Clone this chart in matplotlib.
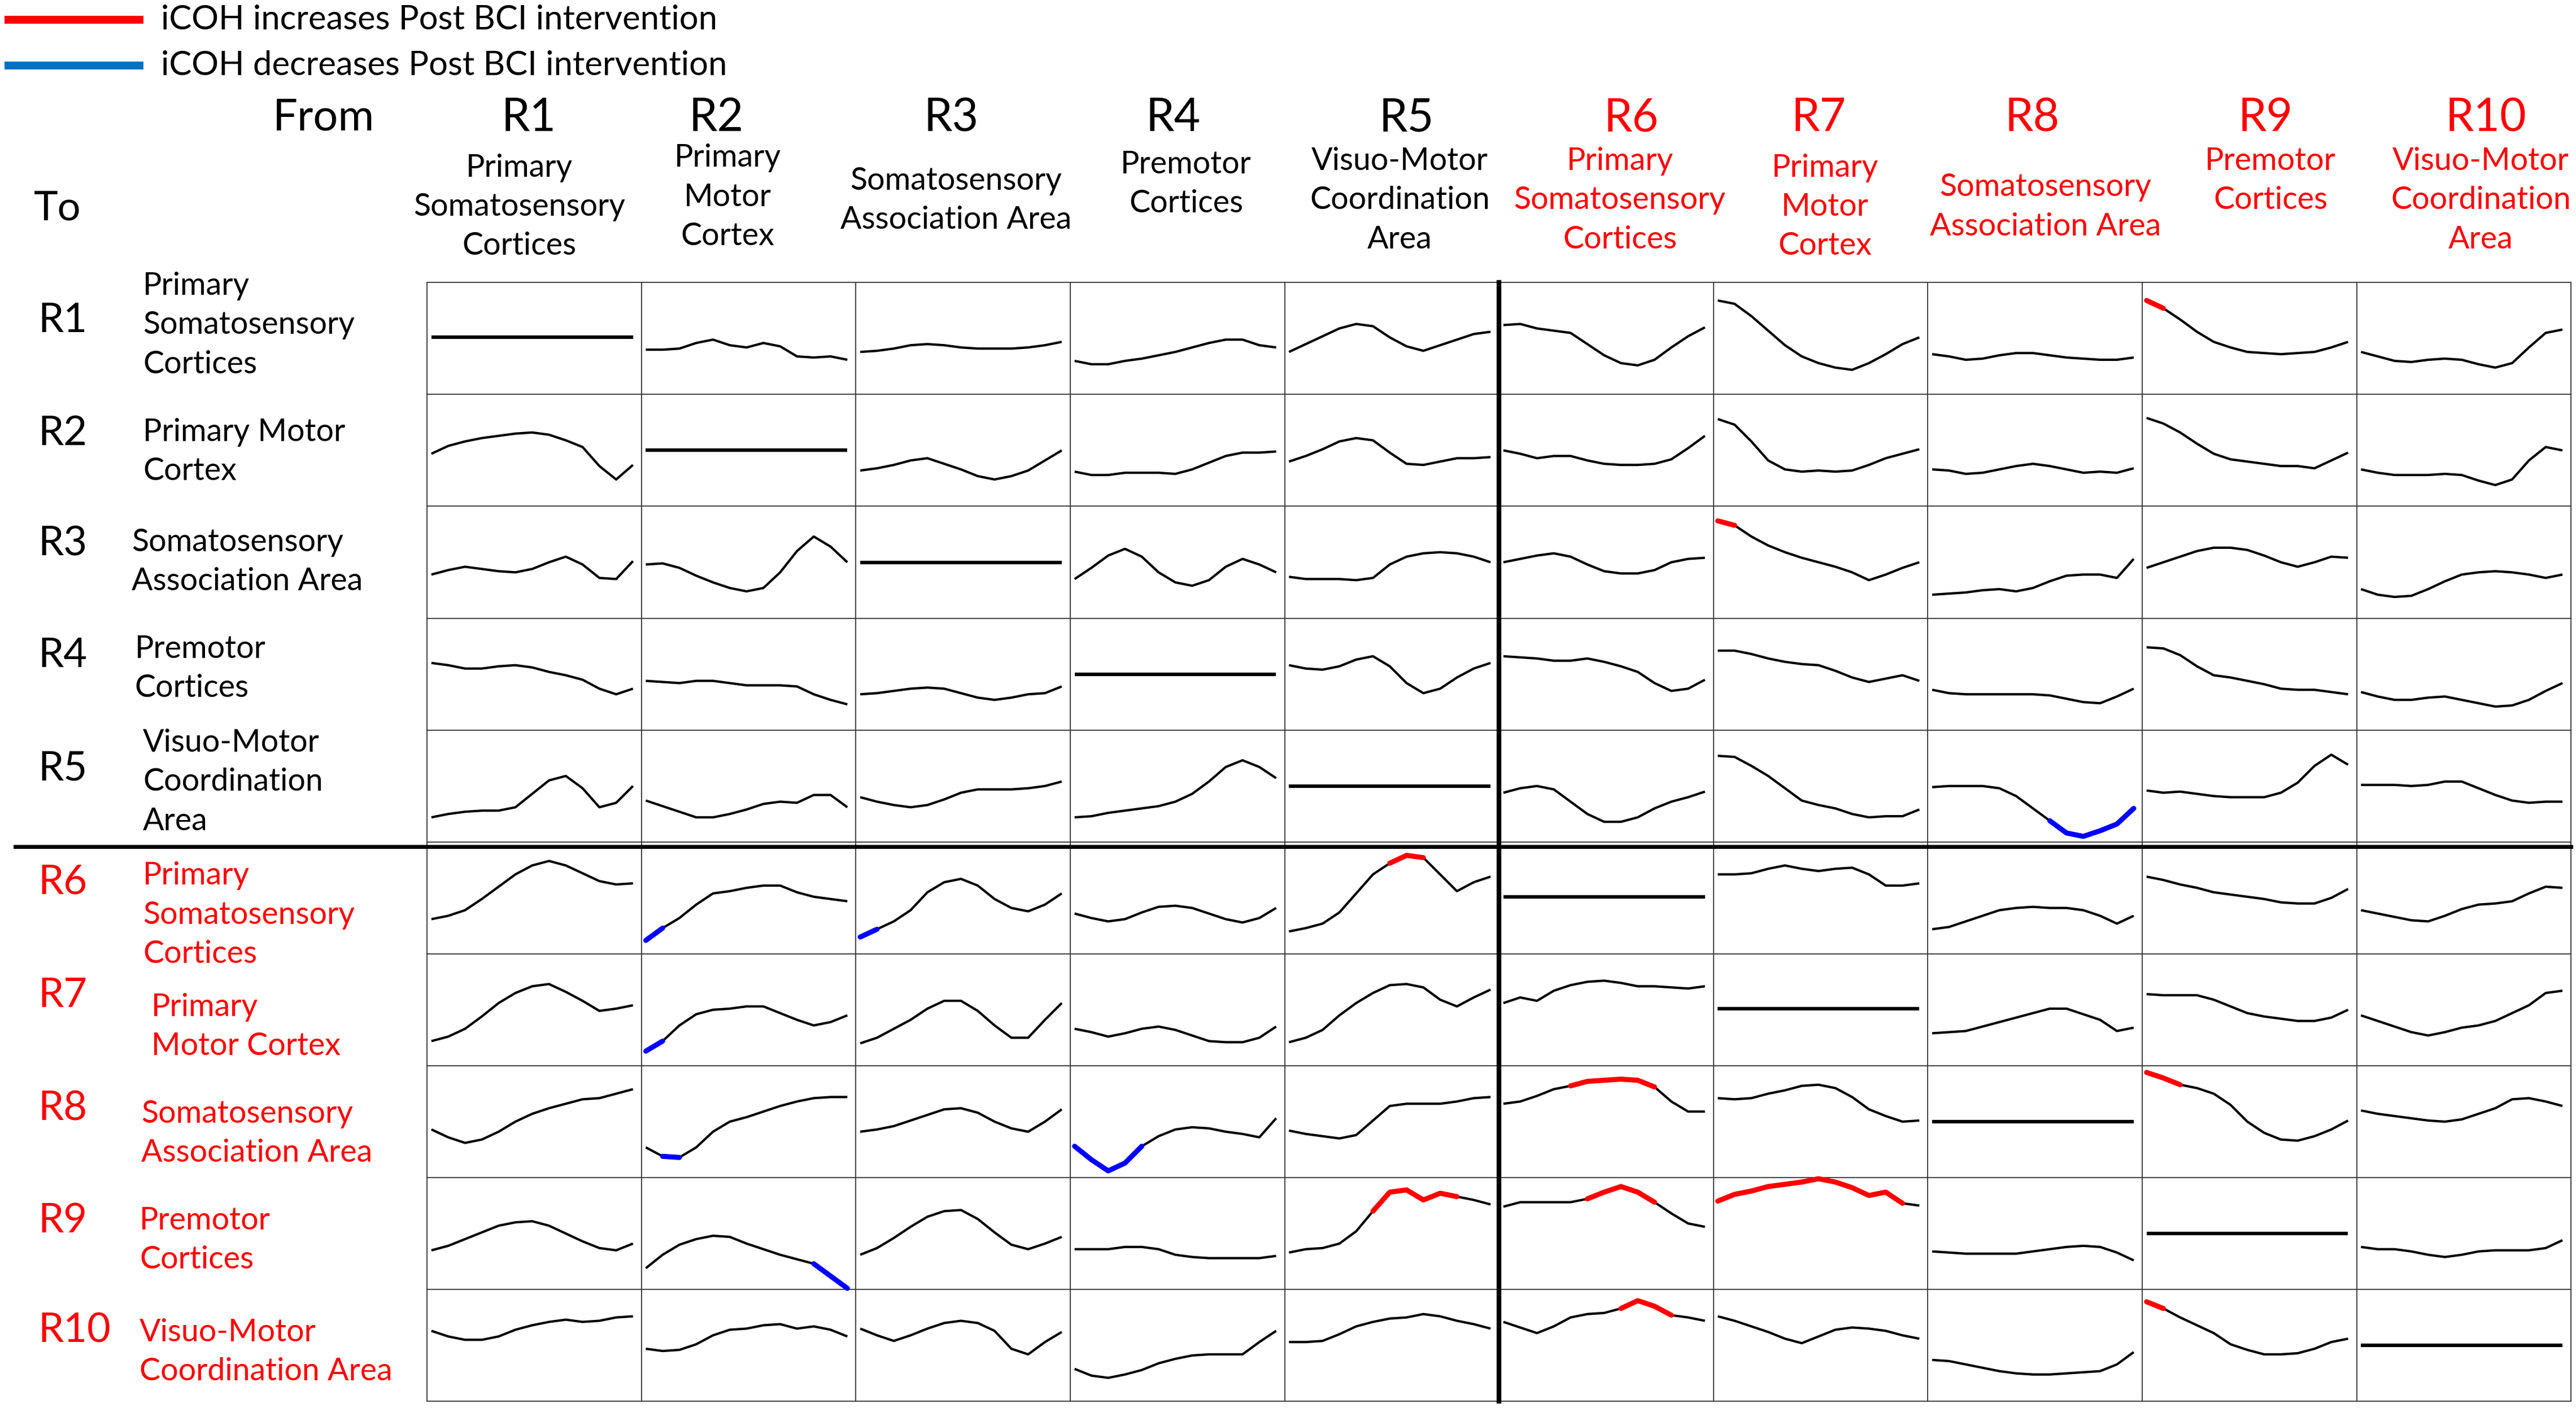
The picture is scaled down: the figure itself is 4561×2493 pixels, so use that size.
import numpy as np
import matplotlib
matplotlib.use("Agg")
import matplotlib.pyplot as plt

plt.rcParams['font.family'] = ['Lato', 'DejaVu Sans']

# region names
regions = ["R1", "R2", "R3", "R4", "R5", "R6", "R7", "R8", "R9", "R10"]
col_names = ["Primary\nSomatosensory\nCortices", "Primary\nMotor\nCortex",
             "Somatosensory\nAssociation Area", "Premotor\nCortices",
             "Visuo-Motor\nCoordination\nArea", "Primary\nSomatosensory\nCortices",
             "Primary\nMotor\nCortex", "Somatosensory\nAssociation Area",
             "Premotor\nCortices", "Visuo-Motor\nCoordination\nArea"]
row_names = ["Primary\nSomatosensory\nCortices", "Primary Motor\nCortex",
             "Somatosensory\nAssociation Area", "Premotor\nCortices",
             "Visuo-Motor\nCoordination\nArea", "Primary\nSomatosensory\nCortices",
             "Primary\nMotor Cortex", "Somatosensory\nAssociation Area",
             "Premotor\nCortices", "Visuo-Motor\nCoordination Area"]

# iCOH traces, % of cell height, one list per "To" row, 10 "From" columns each
to_R1 = [
    [51] * 13,
    [40, 40, 41, 46, 49, 44, 42, 46, 43, 34, 33, 34, 31],
    [38, 39, 41, 44, 45, 44, 42, 41, 41, 41, 42, 44, 47],
    [30, 27, 27, 30, 32, 35, 38, 42, 46, 49, 49, 44, 42],
    [38, 45, 52, 59, 63, 61, 51, 43, 39, 44, 49, 54, 56],
    [62, 63, 59, 57, 55, 45, 35, 28, 26, 31, 42, 52, 60],
    [84, 81, 70, 57, 44, 34, 28, 24, 22, 28, 36, 45, 51],
    [36, 34, 31, 32, 35, 37, 37, 35, 33, 32, 31, 31, 33],
    [84, 77, 67, 56, 47, 42, 38, 37, 36, 37, 38, 42, 47],
    [38, 34, 30, 29, 31, 32, 31, 27, 24, 28, 42, 55, 58],
]
to_R2 = [
    [47, 54, 58, 61, 63, 65, 66, 64, 59, 53, 36, 24, 37],
    [50] * 13,
    [32, 34, 37, 41, 43, 38, 33, 27, 24, 27, 32, 41, 50],
    [31, 28, 28, 30, 30, 30, 29, 33, 39, 45, 48, 48, 49],
    [40, 45, 51, 58, 61, 59, 48, 38, 37, 40, 43, 43, 44],
    [50, 47, 43, 45, 45, 41, 38, 37, 37, 38, 42, 52, 63],
    [78, 73, 58, 41, 33, 31, 32, 31, 32, 37, 43, 47, 51],
    [33, 32, 29, 30, 33, 36, 38, 36, 33, 30, 31, 30, 34],
    [79, 74, 66, 56, 47, 42, 40, 38, 36, 36, 34, 41, 48],
    [33, 30, 28, 28, 28, 29, 28, 23, 19, 24, 41, 53, 50],
]
to_R3 = [
    [39, 43, 46, 44, 42, 41, 44, 50, 55, 48, 36, 35, 51],
    [48, 49, 45, 38, 32, 27, 24, 27, 41, 60, 73, 64, 50],
    [50] * 13,
    [35, 45, 56, 62, 55, 41, 32, 29, 34, 46, 53, 48, 41],
    [37, 35, 35, 35, 34, 36, 48, 55, 58, 59, 58, 55, 50],
    [50, 53, 56, 58, 55, 48, 42, 40, 40, 43, 50, 53, 54],
    [87, 83, 73, 65, 59, 54, 50, 46, 41, 34, 39, 45, 50],
    [21, 22, 23, 25, 26, 24, 27, 33, 38, 39, 39, 36, 53],
    [45, 50, 55, 60, 63, 63, 61, 56, 50, 46, 50, 55, 54],
    [26, 21, 19, 20, 26, 33, 39, 41, 42, 41, 39, 36, 39],
]
to_R4 = [
    [60, 58, 55, 55, 57, 58, 56, 52, 49, 45, 37, 32, 37],
    [44, 43, 42, 44, 44, 42, 40, 40, 40, 39, 32, 27, 23],
    [32, 33, 35, 37, 38, 37, 33, 29, 27, 29, 32, 33, 39],
    [50] * 13,
    [58, 55, 54, 57, 63, 66, 57, 42, 33, 37, 47, 55, 60],
    [66, 65, 64, 62, 62, 64, 61, 57, 52, 42, 35, 37, 45],
    [71, 71, 68, 64, 61, 59, 58, 53, 47, 43, 46, 49, 44],
    [36, 33, 32, 32, 32, 32, 32, 31, 28, 25, 24, 30, 37],
    [74, 73, 67, 57, 49, 47, 44, 41, 37, 36, 36, 34, 32],
    [34, 30, 27, 27, 29, 30, 27, 24, 21, 22, 27, 35, 42],
]
to_R5 = [
    [22, 25, 27, 28, 28, 31, 43, 55, 59, 48, 31, 35, 50],
    [37, 32, 27, 22, 22, 25, 29, 34, 36, 35, 42, 42, 31],
    [40, 36, 33, 31, 33, 38, 44, 47, 47, 47, 48, 50, 54],
    [22, 23, 26, 28, 30, 32, 36, 43, 54, 67, 73, 67, 57],
    [50] * 13,
    [44, 48, 50, 47, 36, 25, 18, 18, 22, 30, 36, 40, 45],
    [77, 76, 68, 59, 48, 37, 33, 30, 25, 22, 23, 23, 29],
    [49, 50, 50, 50, 48, 41, 30, 19, 8, 5, 10, 16, 30],
    [46, 44, 45, 43, 41, 40, 40, 40, 44, 53, 68, 78, 69],
    [51, 51, 51, 50, 51, 54, 54, 48, 42, 37, 35, 36, 36],
]
to_R6 = [
    [31, 34, 39, 49, 60, 71, 79, 83, 79, 72, 65, 62, 63],
    [12, 23, 32, 44, 54, 56, 59, 61, 61, 55, 51, 49, 47],
    [15, 22, 29, 39, 55, 64, 67, 61, 49, 41, 38, 44, 54],
    [36, 32, 29, 31, 37, 42, 43, 41, 36, 31, 28, 32, 41],
    [20, 23, 27, 37, 54, 71, 81, 88, 86, 71, 56, 64, 69],
    [51] * 13,
    [71, 71, 72, 76, 79, 76, 74, 76, 77, 71, 61, 61, 63],
    [22, 24, 29, 34, 39, 41, 42, 41, 41, 39, 34, 27, 34],
    [69, 66, 62, 59, 55, 53, 51, 49, 46, 45, 45, 50, 58],
    [39, 36, 33, 30, 29, 34, 40, 44, 45, 47, 54, 60, 59],
]
to_R7 = [
    [22, 26, 33, 44, 56, 65, 71, 73, 66, 58, 49, 51, 54],
    [13, 22, 36, 46, 50, 51, 53, 53, 47, 41, 36, 39, 45],
    [20, 25, 33, 41, 51, 58, 58, 49, 36, 25, 25, 41, 56],
    [33, 30, 26, 29, 33, 35, 32, 27, 22, 21, 21, 25, 35],
    [21, 25, 32, 45, 56, 65, 72, 73, 70, 59, 53, 61, 68],
    [56, 61, 58, 67, 72, 75, 76, 74, 71, 71, 70, 69, 71],
    [51] * 13,
    [29, 30, 31, 35, 39, 43, 47, 51, 51, 46, 41, 31, 34],
    [64, 63, 63, 63, 59, 53, 47, 44, 42, 40, 40, 43, 50],
    [45, 40, 35, 30, 27, 30, 34, 36, 40, 47, 54, 65, 67],
]
to_R8 = [
    [43, 36, 31, 34, 41, 50, 57, 62, 66, 70, 71, 75, 79],
    [27, 19, 18, 27, 41, 50, 54, 59, 64, 68, 71, 72, 72],
    [41, 43, 46, 51, 56, 61, 62, 58, 50, 44, 41, 50, 61],
    [28, 16, 6, 13, 28, 37, 43, 45, 44, 41, 39, 36, 53],
    [42, 39, 37, 35, 38, 51, 64, 66, 66, 66, 68, 71, 72],
    [66, 68, 73, 79, 82, 86, 87, 88, 87, 81, 68, 59, 59],
    [71, 70, 71, 75, 78, 82, 83, 80, 72, 61, 55, 50, 51],
    [50] * 13,
    [94, 89, 83, 80, 75, 65, 50, 40, 34, 33, 37, 43, 51],
    [60, 57, 55, 53, 51, 50, 52, 57, 62, 70, 71, 68, 64],
]
to_R9 = [
    [35, 39, 45, 51, 57, 60, 61, 57, 50, 43, 37, 35, 41],
    [19, 31, 40, 45, 48, 47, 41, 36, 31, 27, 23, 12, 1],
    [31, 37, 46, 56, 65, 70, 71, 63, 51, 40, 36, 41, 47],
    [36, 36, 36, 38, 38, 36, 31, 29, 28, 28, 28, 28, 30],
    [33, 36, 37, 41, 52, 70, 87, 89, 80, 86, 83, 80, 76],
    [74, 78, 78, 78, 78, 81, 87, 92, 87, 78, 68, 59, 56],
    [79, 85, 88, 92, 94, 96, 99, 96, 91, 84, 87, 77, 75],
    [34, 33, 32, 32, 32, 32, 34, 36, 38, 39, 38, 33, 26],
    [50] * 13,
    [38, 36, 36, 34, 31, 29, 31, 34, 35, 35, 35, 37, 44],
]
to_R10 = [
    [63, 58, 55, 55, 58, 64, 68, 71, 73, 71, 72, 75, 76],
    [47, 45, 46, 51, 59, 64, 65, 68, 69, 65, 67, 64, 58],
    [65, 59, 54, 59, 65, 70, 72, 70, 63, 47, 42, 53, 62],
    [29, 23, 21, 24, 28, 34, 38, 41, 42, 42, 42, 53, 63],
    [53, 53, 54, 60, 67, 71, 74, 75, 78, 76, 72, 69, 65],
    [71, 66, 61, 67, 75, 78, 79, 83, 90, 85, 77, 75, 72],
    [76, 72, 67, 62, 56, 52, 58, 64, 66, 65, 63, 59, 56],
    [37, 36, 33, 30, 27, 25, 24, 24, 25, 26, 27, 33, 44],
    [89, 83, 75, 68, 61, 51, 46, 42, 42, 43, 47, 53, 56],
    [50] * 13,
]
traces = [to_R1, to_R2, to_R3, to_R4, to_R5, to_R6, to_R7, to_R8, to_R9, to_R10]

# significant changes: (to row, from col, first point, last point, direction)
changes = [
    (0, 8, 0, 1, "up"), (2, 6, 0, 1, "up"), (4, 7, 7, 12, "down"),
    (5, 1, 0, 1, "down"), (5, 2, 0, 1, "down"), (5, 4, 6, 8, "up"),
    (6, 1, 0, 1, "down"), (7, 1, 1, 2, "down"), (7, 3, 0, 4, "down"),
    (7, 5, 4, 9, "up"), (7, 8, 0, 2, "up"), (8, 1, 10, 12, "down"),
    (8, 4, 5, 10, "up"), (8, 5, 5, 9, "up"), (8, 6, 0, 11, "up"),
    (9, 5, 7, 10, "up"), (9, 8, 0, 1, "up"),
]

W, H = 4561, 2493
S = W / 1568.0


def fx(x):
    return x * S / W


def fy(y):
    return 1 - y * S / H


def main():
    fig = plt.figure(figsize=(W / 100, H / 100), dpi=100)
    ax = fig.add_axes([fx(260), fy(853), fx(1565) - fx(260), fy(172) - fy(853)])
    ax.set_xlim(0, 10)
    ax.set_ylim(0, 10)
    ax.axis("off")

    xs = np.linspace(0.02, 0.96, 13)
    for r in range(10):
        for c in range(10):
            vals = np.array(traces[r][c]) / 100.0
            base = 9 - r
            lw = 4.5 if r == c else 3.0
            ax.plot(c + xs, base + vals, color="black", lw=lw, solid_capstyle="butt",
                    solid_joinstyle="round", zorder=3)
    for r, c, i0, i1, d in changes:
        vals = np.array(traces[r][c]) / 100.0
        col = "#FF0000" if d == "up" else "#0000FF"
        ax.plot(c + xs[i0:i1 + 1], 9 - r + vals[i0:i1 + 1], color=col, lw=6.5,
                solid_capstyle="round", solid_joinstyle="round", zorder=4)

    # cell grid
    for k in range(11):
        ax.plot([k, k], [0, 10], color="#333333", lw=1.3, zorder=2, clip_on=False)
        ax.plot([0, 10], [k, k], color="#333333", lw=1.3, zorder=2, clip_on=False)
    ax.plot([5, 5], [0, 10], color="black", lw=6, zorder=5, clip_on=False)
    ax.plot([-1.92, 10], [4.96, 4.96], color="black", lw=5, zorder=5, clip_on=False)

    # legend
    fig.add_artist(plt.Line2D([fx(5), fx(85)], [fy(12), fy(12)], color="#FF0000", lw=10))
    fig.add_artist(plt.Line2D([fx(5), fx(85)], [fy(40), fy(40)], color="#0070C0", lw=10))
    fig.text(fx(98), fy(12), "iCOH increases Post BCI intervention", fontsize=43, va="center")
    fig.text(fx(98), fy(40), "iCOH decreases Post BCI intervention", fontsize=43, va="center")

    # column headers
    fig.text(fx(197), fy(72), "From", fontsize=56, ha="center", va="center")
    fig.text(fx(35), fy(127), "To", fontsize=52, ha="center", va="center")
    head_x = [322, 436, 579, 714, 856, 993, 1107, 1237, 1379, 1513]
    sub_x = [316, 443, 582, 722, 852, 986, 1111, 1245, 1382, 1510]
    sub_y = [126, 120, 122, 112, 122, 122, 126, 126, 110, 122]
    for i in range(10):
        color = "black" if i < 5 else "#FF0000"
        fig.text(fx(head_x[i]), fy(72), regions[i], fontsize=58, ha="center", va="center", color=color)
        fig.text(fx(sub_x[i]), fy(sub_y[i]), col_names[i], fontsize=40, ha="center", va="center",
                 multialignment="center", linespacing=1.45, color=color)

    # row headers
    lab_y = [195, 264, 331, 399, 468, 537, 606, 675, 743, 810]
    name_x = [87, 87, 80, 82, 87, 87, 92, 86, 85, 85]
    name_y = [198, 275, 342, 407, 476, 557, 625, 690, 755, 823]
    for i in range(10):
        color = "black" if i < 5 else "#FF0000"
        fig.text(fx(23), fy(lab_y[i]), regions[i], fontsize=52, ha="left", va="center", color=color)
        fig.text(fx(name_x[i]), fy(name_y[i]), row_names[i], fontsize=40, ha="left", va="center",
                 linespacing=1.45, color=color)

    fig.savefig("out.png", dpi=100, facecolor="white")


if __name__ == "__main__":
    main()
